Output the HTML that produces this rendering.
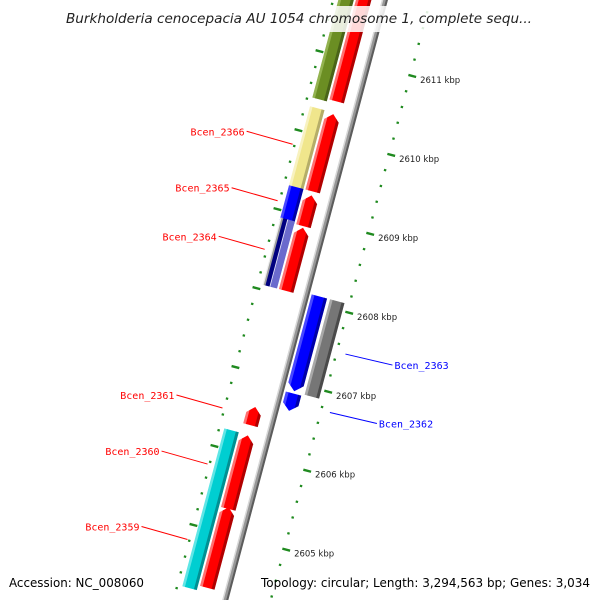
<!DOCTYPE html>
<html><head><meta charset="utf-8">
<style>
html,body{margin:0;padding:0;background:#fff;overflow:hidden;width:600px;height:600px;}
svg{display:block;}
</style></head>
<body>
<svg id="map" width="600" height="600" viewBox="0 0 600 600" xmlns="http://www.w3.org/2000/svg">
<defs id="defs"></defs>
<g id="layer"></g>
<rect x="60" y="6" width="480" height="26" fill="rgba(255,255,255,0.85)"/>
<text x="66" y="23" font-family="'DejaVu Sans', 'Liberation Sans', sans-serif" font-style="italic" font-size="13.5" fill="#222" textLength="466" lengthAdjust="spacingAndGlyphs">Burkholderia cenocepacia AU 1054 chromosome 1, complete sequ...</text>
<text x="9" y="587" font-family="'DejaVu Sans', 'Liberation Sans', sans-serif" font-size="12.5" fill="#000" textLength="135" lengthAdjust="spacingAndGlyphs">Accession: NC_008060</text>
<text x="261" y="587" font-family="'DejaVu Sans', 'Liberation Sans', sans-serif" font-size="12.5" fill="#000" textLength="329" lengthAdjust="spacingAndGlyphs">Topology: circular; Length: 3,294,563 bp; Genes: 3,034</text>
</svg>
<script>
// ---- data ----
const geneNames = ["cds-a","cds-2366","cds-2365","cds-2364","cds-2361","cds-2360","cds-2359","dom-olive","dom-2366","dom-2365","dom-2364","dom-2359","cds-2363","cds-2362","dom-2363"];
const geneStarts = [2610.46,2609.32,2608.88,2608.06,2606.36,2605.30,2604.30,2610.43,2609.31,2608.88,2608.06,2604.24,2606.90,2606.65,2606.89];
const geneEnds   = [2613.00,2610.30,2609.27,2608.86,2606.59,2606.23,2605.32,2613.00,2610.32,2609.32,2608.91,2606.24,2608.10,2606.87,2608.10];
const geneTracks = [-1,-1,-1,-1,-1,-1,-1,-2,-2,-2,-2,-2,1,1,2];
const geneArrows = [1,1,1,1,1,1,1,0,0,0,0,0,-1,-1,0];
const geneStyles = ["red","red","red","red","red","red","red","olive","yellow","blue","stripe","cyan","blue","blue","gray"];
const labelTexts = ["Bcen_2366","Bcen_2365","Bcen_2364","Bcen_2361","Bcen_2360","Bcen_2359","Bcen_2363","Bcen_2362"];
const labelGene  = [8,9,10,4,5,6,12,13];
const tickMajor  = [2604,2605,2606,2607,2608,2609,2610,2611,2612];
const tickLabels = ["2604 kbp","2605 kbp","2606 kbp","2607 kbp","2608 kbp","2609 kbp","2610 kbp","2611 kbp","2612 kbp"];
const tickMinorStep = 0.2;

// ---- styles (strip fractions across width) ----
const STRIPS = {
  red:   [[0,0.2,"#ff7070"],[0.2,0.82,"#ff0000"],[0.82,1,"#b00000"]],
  olive: [[0,0.2,"#93b350"],[0.2,0.82,"#6b8e23"],[0.82,1,"#4a6418"]],
  yellow:[[0,0.2,"#f8f2c0"],[0.2,0.82,"#f0e68c"],[0.82,1,"#b5ad68"]],
  blue:  [[0,0.2,"#4848ff"],[0.2,0.82,"#0000ff"],[0.82,1,"#0000a8"]],
  cyan:  [[0,0.2,"#60e6e6"],[0.2,0.82,"#00ced1"],[0.82,1,"#009093"]],
  gray:  [[0,0.2,"#a8a8a8"],[0.2,0.82,"#767676"],[0.82,1,"#4a4a4a"]],
  stripe:[[0,0.1,"#eeeeee"],[0.1,0.22,"#a0a0a0"],[0.22,0.5,"#000080"],[0.5,0.56,"#e0e0f8"],[0.56,1,"#6a6acd"]],
  back:  [[0,0.3,"#d8d8d8"],[0.3,0.7,"#979797"],[0.7,1,"#5c5c5c"]]
};

// ---- axis functions ----
const PXKB = 81.7, REF = 2608, R = 1e6, T0 = 14.9*Math.PI/180, OX = 305, OY = 300;
function vOf(kb){ return 1 + (REF - kb)*PXKB; }
function map(v,u){
  const t = T0 - v/R;
  const px = OX - R*(Math.cos(t)-Math.cos(T0));
  const py = OY - R*(Math.sin(t)-Math.sin(T0));
  return [px + u*Math.cos(t), py + u*Math.sin(t)];
}
const trackU = {"-2":[-45,-30],"-1":[-28,-13],"1":[5,21],"2":[24,39]};
const NS="http://www.w3.org/2000/svg";
const layer=document.getElementById('layer');
const defs=document.getElementById('defs');
function poly(pts){ return pts.map(p=>p[0].toFixed(1)+","+p[1].toFixed(1)).join(" "); }
function quad(v0,v1,ua,ub){ return [map(v0,ua),map(v0,ub),map(v1,ub),map(v1,ua)]; }
let clipN=0;
function shaded(g, outline, v0, v1, u1, u2, style){
  const id='clip'+(clipN++);
  const cp=document.createElementNS(NS,'clipPath'); cp.setAttribute('id',id);
  const pp=document.createElementNS(NS,'polygon'); pp.setAttribute('points',poly(outline));
  cp.appendChild(pp); defs.appendChild(cp);
  const sg=document.createElementNS(NS,'g'); sg.setAttribute('clip-path','url(#'+id+')');
  g.appendChild(sg);
  STRIPS[style].forEach(s=>{
    const q=document.createElementNS(NS,'polygon');
    q.setAttribute('points',poly(quad(v0-2,v1+2,u1+(u2-u1)*s[0]-0.3,u1+(u2-u1)*s[1]+0.3)));
    q.setAttribute('fill',s[2]);
    sg.appendChild(q);
  });
}
// backbone
{
  const g=document.createElementNS(NS,'g');
  
  
  layer.appendChild(g);
  shaded(g, quad(-360,360,-3,3), -360, 360, -3, 3, 'back');
}
// rulers
function ruler(side){
  const g=document.createElementNS(NS,'g');
  
  
  layer.appendChild(g);
  const uc = side>0?44:-50;
  for(let kb=2603.8;kb<=2612.4;kb+=tickMinorStep){
    const k=Math.round(kb*10)/10, v=vOf(k);
    if(v<-340||v>340) continue;
    const major = tickMajor.indexOf(Math.round(k))>=0 && Math.abs(k-Math.round(k))<0.01;
    const a = major? map(v, side>0?42:-54) : map(v,uc-1.2);
    const b = major? map(v, side>0?50:-46) : map(v,uc+1.2);
    const ln=document.createElementNS(NS,'line');
    ln.setAttribute('x1',a[0]);ln.setAttribute('y1',a[1]);ln.setAttribute('x2',b[0]);ln.setAttribute('y2',b[1]);
    ln.setAttribute('stroke','#1f8a1f'); ln.setAttribute('stroke-width',major?2.4:2.2);
    
    
    g.appendChild(ln);
    if(major && side>0 && b[1]>40){
      const i=tickMajor.indexOf(Math.round(k));
      const tx=document.createElementNS(NS,'text');
      tx.setAttribute('x',b[0]+4); tx.setAttribute('y',b[1]+6);
      tx.setAttribute('font-family',"'DejaVu Sans','Liberation Sans',sans-serif");
      tx.setAttribute('font-size','8.5'); tx.setAttribute('fill','#222');
      tx.textContent=tickLabels[i];
      
      
      g.appendChild(tx);
    }
  }
}
ruler(1); ruler(-1);
// genes
for(let i=0;i<geneNames.length;i++){
  const vt=vOf(geneEnds[i]), vb=vOf(geneStarts[i]);
  const [u1,u2]=trackU[geneTracks[i]], um=(u1+u2)/2, tip=7;
  let pts=[];
  if(geneArrows[i]===1){
    pts=[map(vb,u1),map(vb,u2),map(vt+tip,u2),map(vt,um),map(vt+tip,u1)];
  } else if(geneArrows[i]===-1){
    pts=[map(vt,u1),map(vt,u2),map(vb-tip,u2),map(vb,um),map(vb-tip,u1)];
  } else {
    pts=[map(vt,u1),map(vt,u2),map(vb,u2),map(vb,u1)];
  }
  const g=document.createElementNS(NS,'g');
  
  
  layer.appendChild(g);
  shaded(g, pts, vt, vb, u1, u2, geneStyles[i]);
}
// labels
for(let j=0;j<labelTexts.length;j++){
  const gi=labelGene[j], mid=(vOf(geneStarts[gi])+vOf(geneEnds[gi]))/2;
  const right=geneTracks[gi]>0;
  const e=map(mid, right?53:-52);
  const col=right?'#0000ff':'#ff0000';
  const ln=document.createElementNS(NS,'line');
  const ox=right?47:-46, oy=right?11:-13;
  ln.setAttribute('x1',e[0]);ln.setAttribute('y1',e[1]);ln.setAttribute('x2',e[0]+ox);ln.setAttribute('y2',e[1]+oy);
  ln.setAttribute('stroke',col); ln.setAttribute('stroke-width','1');
  
  
  layer.appendChild(ln);
  const tx=document.createElementNS(NS,'text');
  tx.setAttribute('x',right?e[0]+ox+2:e[0]+ox-2);
  tx.setAttribute('y',e[1]+oy+4);
  tx.setAttribute('text-anchor',right?'start':'end');
  tx.setAttribute('font-family',"'DejaVu Sans Mono','Liberation Mono',monospace");
  tx.setAttribute('font-size','10'); tx.setAttribute('fill',col);
  tx.textContent=labelTexts[j];
  
  
  layer.appendChild(tx);
}
</script>
</body></html>
